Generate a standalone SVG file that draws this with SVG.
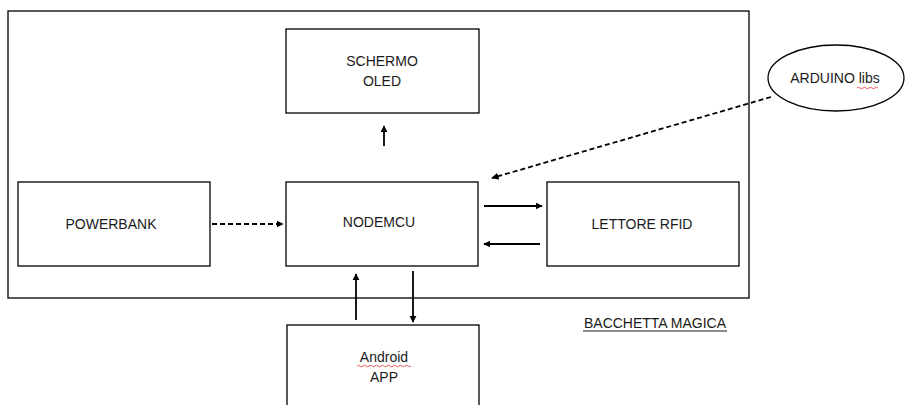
<svg xmlns="http://www.w3.org/2000/svg" width="907" height="405" viewBox="0 0 907 405">
<style>
.box{fill:#fff;stroke:#000;stroke-width:1.3}
.t{font-family:"Liberation Sans",Arial,sans-serif;font-size:14px;fill:#1a1a1a;text-anchor:middle}
.c{stroke:#000;stroke-width:1.8;fill:none}
.d{stroke-dasharray:5,3}
.sq{stroke:#e03030;stroke-width:0.8;fill:none}
</style>
<defs>
<marker id="ah" viewBox="0 0 10 10" refX="9" refY="5" markerWidth="4" markerHeight="4" orient="auto" markerUnits="strokeWidth">
<path d="M0,0 L10,5 L0,10 z" fill="#000"/>
</marker>
</defs>
<rect id="frame" x="8" y="11" width="741" height="287" fill="#fff" stroke="#000" stroke-width="1.3"/>
<g id="oled"><rect class="box" x="286" y="29" width="193" height="84"/><text class="t" x="382" y="66">SCHERMO</text><text class="t" x="382" y="86">OLED</text></g>
<g id="powerbank"><rect class="box" x="18" y="182" width="192" height="84"/><text class="t" x="111" y="229">POWERBANK</text></g>
<g id="nodemcu"><rect class="box" x="286" y="182" width="192" height="84"/><text class="t" x="379" y="227">NODEMCU</text></g>
<g id="rfid"><rect class="box" x="547" y="182" width="192" height="84"/><text class="t" x="642" y="229">LETTORE RFID</text></g>
<g id="android"><rect class="box" x="287" y="325" width="192" height="90"/><text class="t" x="384" y="362">Android</text><text class="t" x="384" y="382">APP</text>
<path class="sq" d="M357,366 q1.5,-1.5 3,0 t3,0 t3,0 t3,0 t3,0 t3,0 t3,0 t3,0 t3,0 t3,0 t3,0 t3,0 t3,0 t3,0 t3,0 t3,0 t3,0 t3,0"/></g>
<g id="arduino"><ellipse cx="836" cy="78" rx="68" ry="33" fill="#fff" stroke="#000" stroke-width="1.3"/><text class="t" x="835" y="83">ARDUINO libs</text>
<path class="sq" d="M857,88 q1.5,-1.5 3,0 t3,0 t3,0 t3,0 t3,0 t3,0 t3,0"/></g>
<g id="label"><text class="t" x="655" y="328">BACCHETTA MAGICA</text><line x1="583" y1="331" x2="727" y2="331" stroke="#000" stroke-width="0.9"/></g>
<g id="connectors">
<line class="c" x1="384" y1="146" x2="384" y2="126" marker-end="url(#ah)"/>
<line class="c d" x1="212" y1="224" x2="283" y2="224" marker-end="url(#ah)"/>
<line class="c" x1="484" y1="206" x2="542" y2="206" marker-end="url(#ah)"/>
<line class="c" x1="540" y1="244" x2="484" y2="244" marker-end="url(#ah)"/>
<line class="c" x1="356" y1="320" x2="356" y2="274" marker-end="url(#ah)"/>
<line class="c" x1="413" y1="271" x2="413" y2="322" marker-end="url(#ah)"/>
<line class="c d" x1="771" y1="97" x2="492" y2="178" marker-end="url(#ah)"/>
</g>
</svg>
